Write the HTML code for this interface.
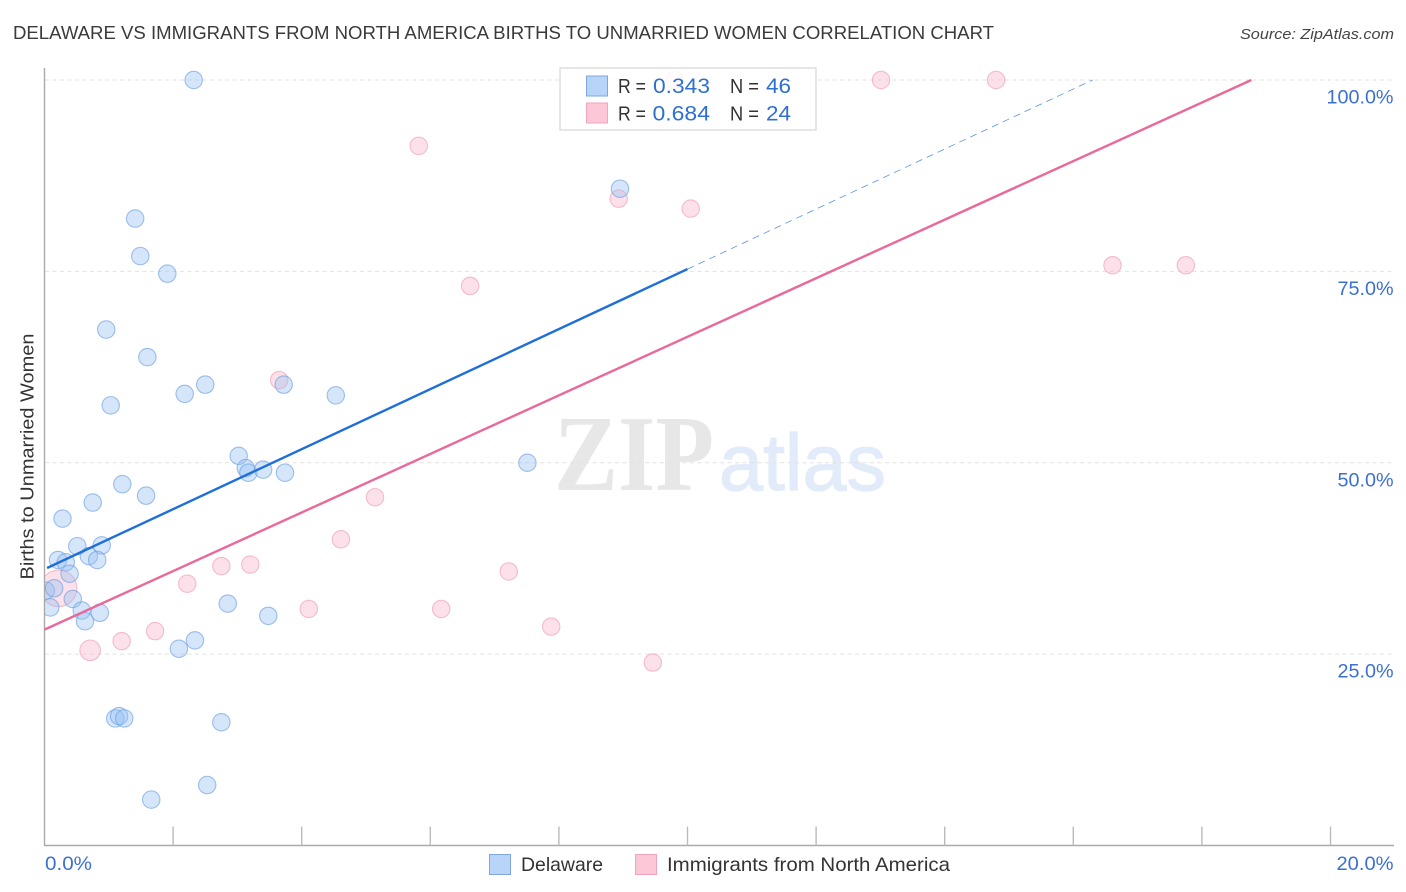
<!DOCTYPE html>
<html lang="en">
<head>
<meta charset="utf-8">
<title>Delaware vs Immigrants from North America Births to Unmarried Women Correlation Chart</title>
<style>
html,body{margin:0;padding:0;background:#fff;width:1406px;height:892px;overflow:hidden}
svg{display:block}
text{font-family:"Liberation Sans",Arial,sans-serif}
</style>
</head>
<body>
<svg id="chart" width="1406" height="892" viewBox="0 0 1406 892" xmlns="http://www.w3.org/2000/svg">
  <defs><clipPath id="plot-clip"><rect x="45" y="60" width="1349" height="786"/></clipPath></defs>
  <rect width="1406" height="892" fill="#fff"/>
  <text x="13" y="39" font-size="18.6" fill="#3a3a3a" textLength="981" lengthAdjust="spacingAndGlyphs">DELAWARE VS IMMIGRANTS FROM NORTH AMERICA BIRTHS TO UNMARRIED WOMEN CORRELATION CHART</text>
  <text x="1394" y="39" font-size="15" font-style="italic" fill="#444" text-anchor="end" textLength="154" lengthAdjust="spacingAndGlyphs">Source: ZipAtlas.com</text>
  <g>
    <text x="554" y="490" font-size="108" font-weight="bold" fill="#e7e7e7" textLength="160" lengthAdjust="spacingAndGlyphs" style="font-family:'Liberation Serif',serif">ZIP</text>
    <text x="719" y="490" font-size="80" fill="#e2ebf9" stroke="#e2ebf9" stroke-width="1.2" textLength="167" lengthAdjust="spacingAndGlyphs">atlas</text>
  </g>
  <g id="grid"></g>
  <g id="axes"></g>
  <g id="y-ticks"></g>
  <g id="x-ticks"></g>
  <text transform="translate(33.5,456.5) rotate(-90)" font-size="18.5" fill="#333" text-anchor="middle" textLength="246" lengthAdjust="spacingAndGlyphs">Births to Unmarried Women</text>
  <g id="points" clip-path="url(#plot-clip)"></g>
  <g id="trends"></g>

  <g>
    <rect x="560" y="68" width="256" height="62" fill="#fff" fill-opacity="0.85" stroke="#dedede" stroke-width="1.5"/>
    <rect x="586.5" y="76" width="21" height="20" fill="#b8d4f8" stroke="#7ea8dc" stroke-width="1"/>
    <rect x="586.5" y="103" width="21" height="20" fill="#fcc8d8" stroke="#f2a4bd" stroke-width="1"/>
    <text x="618" y="93" font-size="20" fill="#333" textLength="28" lengthAdjust="spacingAndGlyphs">R =</text>
    <text x="653" y="93" font-size="21" fill="#2f6fd0" textLength="57" lengthAdjust="spacingAndGlyphs">0.343</text>
    <text x="730" y="93" font-size="20" fill="#333" textLength="29" lengthAdjust="spacingAndGlyphs">N =</text>
    <text x="766" y="93" font-size="21" fill="#2f6fd0" textLength="25" lengthAdjust="spacingAndGlyphs">46</text>
    <text x="618" y="120.500" font-size="20" fill="#333" textLength="28" lengthAdjust="spacingAndGlyphs">R =</text>
    <text x="652.500" y="120.500" font-size="21" fill="#2f6fd0" textLength="57.500" lengthAdjust="spacingAndGlyphs">0.684</text>
    <text x="730" y="120.500" font-size="20" fill="#333" textLength="29" lengthAdjust="spacingAndGlyphs">N =</text>
    <text x="766" y="120.500" font-size="21" fill="#2f6fd0" textLength="25" lengthAdjust="spacingAndGlyphs">24</text>
  </g>

  <text x="45" y="870" font-size="19" fill="#3b70d2" textLength="47" lengthAdjust="spacingAndGlyphs">0.0%</text>
  <text x="1393.500" y="870" font-size="19" fill="#3b70d2" text-anchor="end" textLength="57" lengthAdjust="spacingAndGlyphs">20.0%</text>

  <g>
    <rect x="489.500" y="854.500" width="21" height="20" fill="#b8d4f8" stroke="#7ea8dc" stroke-width="1"/>
    <text x="521" y="871" font-size="19.500" fill="#333" textLength="82" lengthAdjust="spacingAndGlyphs">Delaware</text>
    <rect x="635.500" y="854.500" width="21" height="20" fill="#fcc8d8" stroke="#f2a4bd" stroke-width="1"/>
    <text x="667" y="871" font-size="19.500" fill="#333" textLength="283" lengthAdjust="spacingAndGlyphs">Immigrants from North America</text>
  </g>
</svg>
<script>
// Chart data, in axis units (percent)
var yTickValues = [25, 50, 75, 100];
var yTickLabels = ["25.0%", "50.0%", "75.0%", "100.0%"];
var xTickValues = [2, 4, 6, 8, 10, 12, 14, 16, 18, 20];
var delawareX = [2.32, 8.95, 1.41, 1.49, 1.91, 0.96, 1.60, 2.18, 2.50, 3.72, 4.53, 1.03, 3.02, 3.13, 3.17, 3.40, 3.74, 7.51, 1.21, 1.58, 0.75, 0.28, 0.51, 0.89, 0.21, 0.33, 0.69, 0.82, 0.39, 0.02, 0.15, 0.09, 0.44, 0.58, 0.63, 0.86, 2.85, 3.48, 2.09, 2.34, 1.10, 1.16, 1.24, 2.75, 2.53, 1.66];
var delawareY = [100, 85.8, 81.9, 77.0, 74.7, 67.4, 63.8, 59.0, 60.2, 60.2, 58.8, 57.5, 50.9, 49.3, 48.7, 49.1, 48.7, 50.0, 47.2, 45.7, 44.8, 42.7, 39.1, 39.2, 37.3, 37.0, 37.8, 37.3, 35.5, 33.3, 33.6, 31.1, 32.2, 30.7, 29.3, 30.4, 31.6, 30.0, 25.7, 26.8, 16.6, 16.9, 16.6, 16.1, 7.9, 6.0];
var immigrantsX = [9.80, 13.01, 14.80, 5.82, 8.93, 10.05, 16.61, 17.75, 6.62, 3.65, 5.14, 4.61, 2.75, 3.20, 2.22, 7.22, 4.11, 6.17, 7.88, 1.72, 1.20, 9.46, 0.71, 0.22];
var immigrantsY = [100, 100, 100, 91.4, 84.5, 83.2, 75.8, 75.8, 73.1, 60.8, 45.5, 40.0, 36.5, 36.7, 34.2, 35.8, 30.9, 30.9, 28.6, 28.0, 26.7, 23.9, 25.5, 33.6];
// Relative bubble weight (1 = a single-point marker)
var immigrantsWeight = [1, 1, 1, 1, 1, 1, 1, 1, 1, 1, 1, 1, 1, 1, 1, 1, 1, 1, 1, 1, 1, 1, 1.4, 4.4];
var delawareTrendX = [0.04, 10.0, 16.3];
var delawareTrendY = [36.25, 75.3, 100];
var immigrantsTrendX = [0, 18.77];
var immigrantsTrendY = [28.2, 100];

var NS = "http://www.w3.org/2000/svg";
function xScale(v) { return 44.5 + v * 64.3; }
function yScale(v) { return 845.5 - v * 7.655; }
function radius(w) { return 8.7 * Math.sqrt(w); }
function make(tag, attrs, parent) {
  var el = document.createElementNS(NS, tag);
  for (var k in attrs) el.setAttribute(k, attrs[k]);
  parent.appendChild(el);
  return el;
}
var gridG = document.getElementById("grid");
var yTickG = document.getElementById("y-ticks");
yTickValues.forEach(function (v, i) {
  var line = make("line", { x1: 45, x2: 1394, y1: yScale(v), y2: yScale(v), stroke: "#e2e2e2", "stroke-width": 1, "stroke-dasharray": "4 3.5" }, gridG);
  
  
  var t = make("text", { x: 1393.5, y: yScale(v) + 23.5, "font-size": 19, fill: "#3b70d2", "text-anchor": "end", textLength: i === 3 ? 67 : 56, lengthAdjust: "spacingAndGlyphs" }, yTickG);
  t.textContent = yTickLabels[i];
  
  
});
var axesG = document.getElementById("axes");
var yAxis = make("line", { x1: 44.5, x2: 44.5, y1: 68, y2: 846, stroke: "#aaa", "stroke-width": 1.4 }, axesG);


var xAxis = make("line", { x1: 44, x2: 1394, y1: 845.5, y2: 845.5, stroke: "#aaa", "stroke-width": 1.4 }, axesG);


var xTickG = document.getElementById("x-ticks");
xTickValues.forEach(function (v) {
  var tick = make("line", { x1: xScale(v), x2: xScale(v), y1: 826.5, y2: 845.5, stroke: "#bbb", "stroke-width": 1.4 }, xTickG);
  
  
});
var pointsG = document.getElementById("points");
immigrantsX.forEach(function (x, i) {
  var c = make("circle", { cx: xScale(x), cy: yScale(immigrantsY[i]), r: radius(immigrantsWeight[i]), fill: "#f9b4ca", "fill-opacity": 0.4, stroke: "#ee9db8", "stroke-opacity": 0.65, "stroke-width": 1.1 }, pointsG);
  
  
});
delawareX.forEach(function (x, i) {
  var c = make("circle", { cx: xScale(x), cy: yScale(delawareY[i]), r: radius(1), fill: "#97c0f2", "fill-opacity": 0.4, stroke: "#6d9fe0", "stroke-opacity": 0.65, "stroke-width": 1.1 }, pointsG);
  
  
});
var trendsG = document.getElementById("trends");
var blueSolid = make("line", { x1: xScale(delawareTrendX[0]), y1: yScale(delawareTrendY[0]), x2: xScale(delawareTrendX[1]), y2: yScale(delawareTrendY[1]), stroke: "#1f6fd8", "stroke-width": 2.4 }, trendsG);


var blueDash = make("line", { x1: xScale(delawareTrendX[1]), y1: yScale(delawareTrendY[1]), x2: xScale(delawareTrendX[2]), y2: yScale(delawareTrendY[2]), stroke: "#5a93e0", "stroke-width": 0.8, "stroke-dasharray": "7 5" }, trendsG);


var pinkLine = make("line", { x1: xScale(immigrantsTrendX[0]), y1: yScale(immigrantsTrendY[0]), x2: xScale(immigrantsTrendX[1]), y2: yScale(immigrantsTrendY[1]), stroke: "#e8699a", "stroke-width": 2.4 }, trendsG);


</script>
</body>
</html>
